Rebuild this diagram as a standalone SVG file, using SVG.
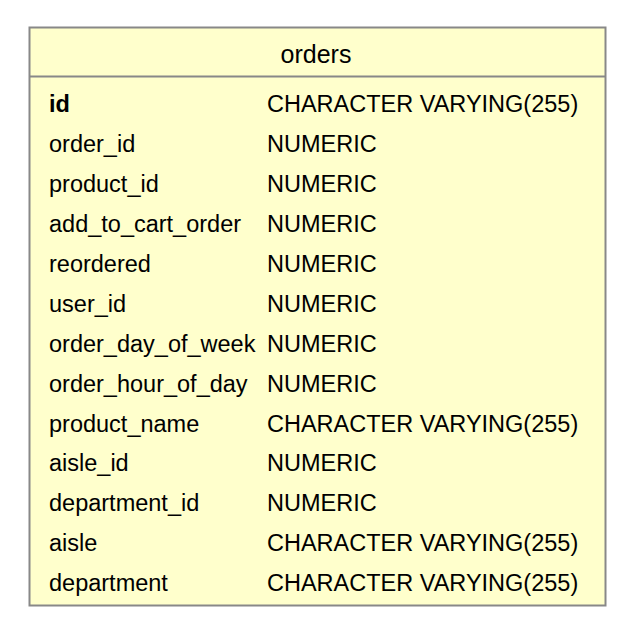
<svg xmlns="http://www.w3.org/2000/svg" width="632" height="634" viewBox="0 0 632 634">
<style>
.t{font-family:"Liberation Sans",Arial,Helvetica,sans-serif;font-size:23.5px;fill:#000}
.b{font-weight:bold}
.h{font-size:25px}
</style>
<rect width="632" height="634" fill="#fff"/>
<g id="orders">
<rect x="29.5" y="27.5" width="576" height="578" fill="#ffffcc" stroke="#888" stroke-width="2"/>
<line x1="29.5" y1="76.5" x2="605.5" y2="76.5" stroke="#888" stroke-width="2"/>
<text class="t h" x="316" y="63" text-anchor="middle">orders</text>
<text class="t b" x="49" y="112">id</text><text class="t" x="267" y="112">CHARACTER VARYING(255)</text>
<text class="t" x="49" y="152">order_id</text><text class="t" x="267" y="152">NUMERIC</text>
<text class="t" x="49" y="192">product_id</text><text class="t" x="267" y="192">NUMERIC</text>
<text class="t" x="49" y="232">add_to_cart_order</text><text class="t" x="267" y="232">NUMERIC</text>
<text class="t" x="49" y="272">reordered</text><text class="t" x="267" y="272">NUMERIC</text>
<text class="t" x="49" y="312">user_id</text><text class="t" x="267" y="312">NUMERIC</text>
<text class="t" x="49" y="352">order_day_of_week</text><text class="t" x="267" y="352">NUMERIC</text>
<text class="t" x="49" y="392">order_hour_of_day</text><text class="t" x="267" y="392">NUMERIC</text>
<text class="t" x="49" y="432">product_name</text><text class="t" x="267" y="432">CHARACTER VARYING(255)</text>
<text class="t" x="49" y="471">aisle_id</text><text class="t" x="267" y="471">NUMERIC</text>
<text class="t" x="49" y="511">department_id</text><text class="t" x="267" y="511">NUMERIC</text>
<text class="t" x="49" y="551">aisle</text><text class="t" x="267" y="551">CHARACTER VARYING(255)</text>
<text class="t" x="49" y="591">department</text><text class="t" x="267" y="591">CHARACTER VARYING(255)</text>
</g>
<g id="connectors"/>
</svg>
